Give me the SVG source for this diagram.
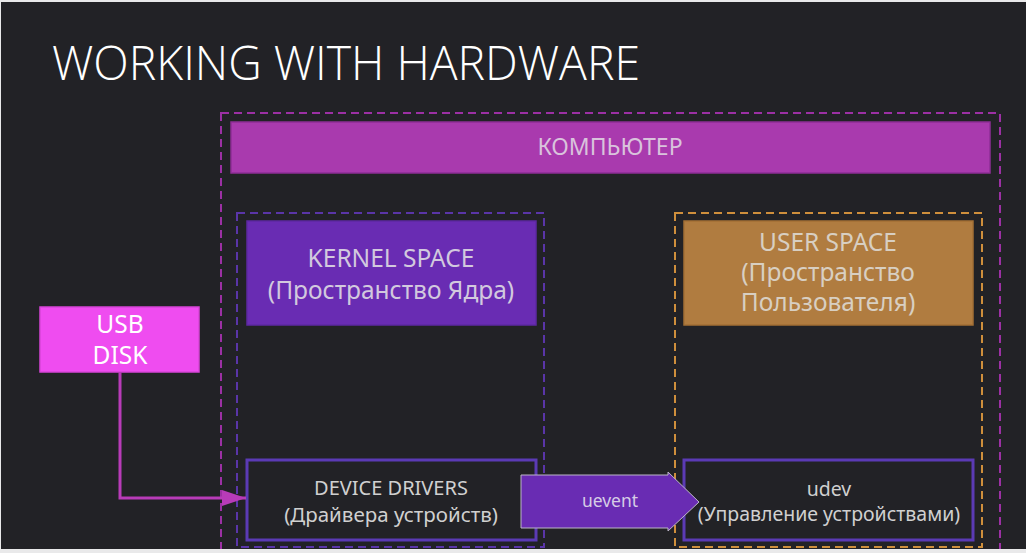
<svg xmlns="http://www.w3.org/2000/svg" width="1026" height="553" viewBox="0 0 1026 553">
<defs>
<style>
text{font-family:"Noto Sans","Open Sans","DejaVu Sans",sans-serif;text-anchor:middle}
.t24{font-size:24.5px}
.t19{font-size:19.5px}
.lt{fill:#d2c9de}
.ut{fill:#d8cfc2}
.box{fill:#222226;stroke:#5b3ab5;stroke-width:3}
.dash{fill:none;stroke-width:2;stroke-dasharray:8,5}
</style>
<marker id="ah" viewBox="0 0 24 16" refX="24" refY="8" markerWidth="24" markerHeight="16" markerUnits="userSpaceOnUse" orient="auto">
<path d="M0,0 L24,8 L0,16 Z" fill="#b83bb8"/>
</marker>
</defs>
<rect x="0" y="0" width="1026" height="553" fill="#e9e9ea"/>
<rect x="1" y="2" width="1025" height="547" fill="#222226"/>
<text x="52" y="80" textLength="588" lengthAdjust="spacingAndGlyphs" style="font-family:'Open Sans','Noto Sans',sans-serif;font-weight:300;font-size:48px;text-anchor:start;fill:#ffffff">WORKING WITH HARDWARE</text>

<g id="computer">
<rect x="221" y="113" width="779" height="460" class="dash" stroke="#9c30a4"/>
<rect x="231" y="122" width="759" height="51" fill="#a93aae" stroke="#8e2e96" stroke-width="1.5"/>
<text x="610" y="155" style="fill:#d9c3dc;font-size:23px">КОМПЬЮТЕР</text>
</g>

<g id="kernel-space">
<rect x="237" y="213" width="307" height="334" class="dash" stroke="#5a35a8"/>
<rect x="247" y="221" width="289" height="104" fill="#692cb3" stroke="#5e28a3" stroke-width="1.5"/>
<text x="391" y="267" class="t24 lt">KERNEL SPACE</text>
<text x="391" y="299" class="t24 lt">(Пространство Ядра)</text>
</g>

<g id="user-space">
<rect x="675" y="213" width="307" height="334" class="dash" stroke="#cf8f3c"/>
<rect x="684" y="221" width="289" height="104" fill="#b07c40" stroke="#a36f34" stroke-width="1.5"/>
<text x="828" y="251" class="t24 ut">USER SPACE</text>
<text x="828" y="281" class="t24 ut">(Пространство</text>
<text x="828" y="311" class="t24 ut">Пользователя)</text>
</g>

<g id="usb-disk">
<rect x="40" y="307" width="159" height="65" fill="#ef4cf0" stroke="#d844d8" stroke-width="1.5"/>
<text x="120" y="333" class="t24" style="fill:#ffffff">USB</text>
<text x="120" y="364" class="t24" style="fill:#ffffff">DISK</text>
</g>

<g id="device-drivers">
<rect x="247" y="460" width="289" height="80" class="box"/>
<text x="391" y="495" class="t19" style="fill:#d0d0d0;font-size:20px">DEVICE DRIVERS</text>
<text x="391" y="522" class="t19" style="fill:#d0d0d0;font-size:20.5px">(Драйвера устройств)</text>
</g>

<g id="udev">
<rect x="684" y="460" width="289" height="80" class="box"/>
<text x="829" y="496" class="t19" style="fill:#d0d0d0">udev</text>
<text x="829" y="521" class="t19" style="fill:#d0d0d0">(Управление устройствами)</text>
</g>

<g id="connectors">
<path d="M120,372 V498 H246" fill="none" stroke="#b83bb8" stroke-width="3" marker-end="url(#ah)"/>
<g id="uevent">
<polygon points="521,475 668,475 668,472 699,502 668,531 668,528 521,528" fill="#692cb3" stroke="#bdb6c8" stroke-width="1"/>
<text x="610" y="507" style="font-size:17.5px;fill:#d6cde6">uevent</text>
</g>
</g>
<rect x="0" y="549" width="1026" height="4" fill="#e9e9ea"/>
</svg>
